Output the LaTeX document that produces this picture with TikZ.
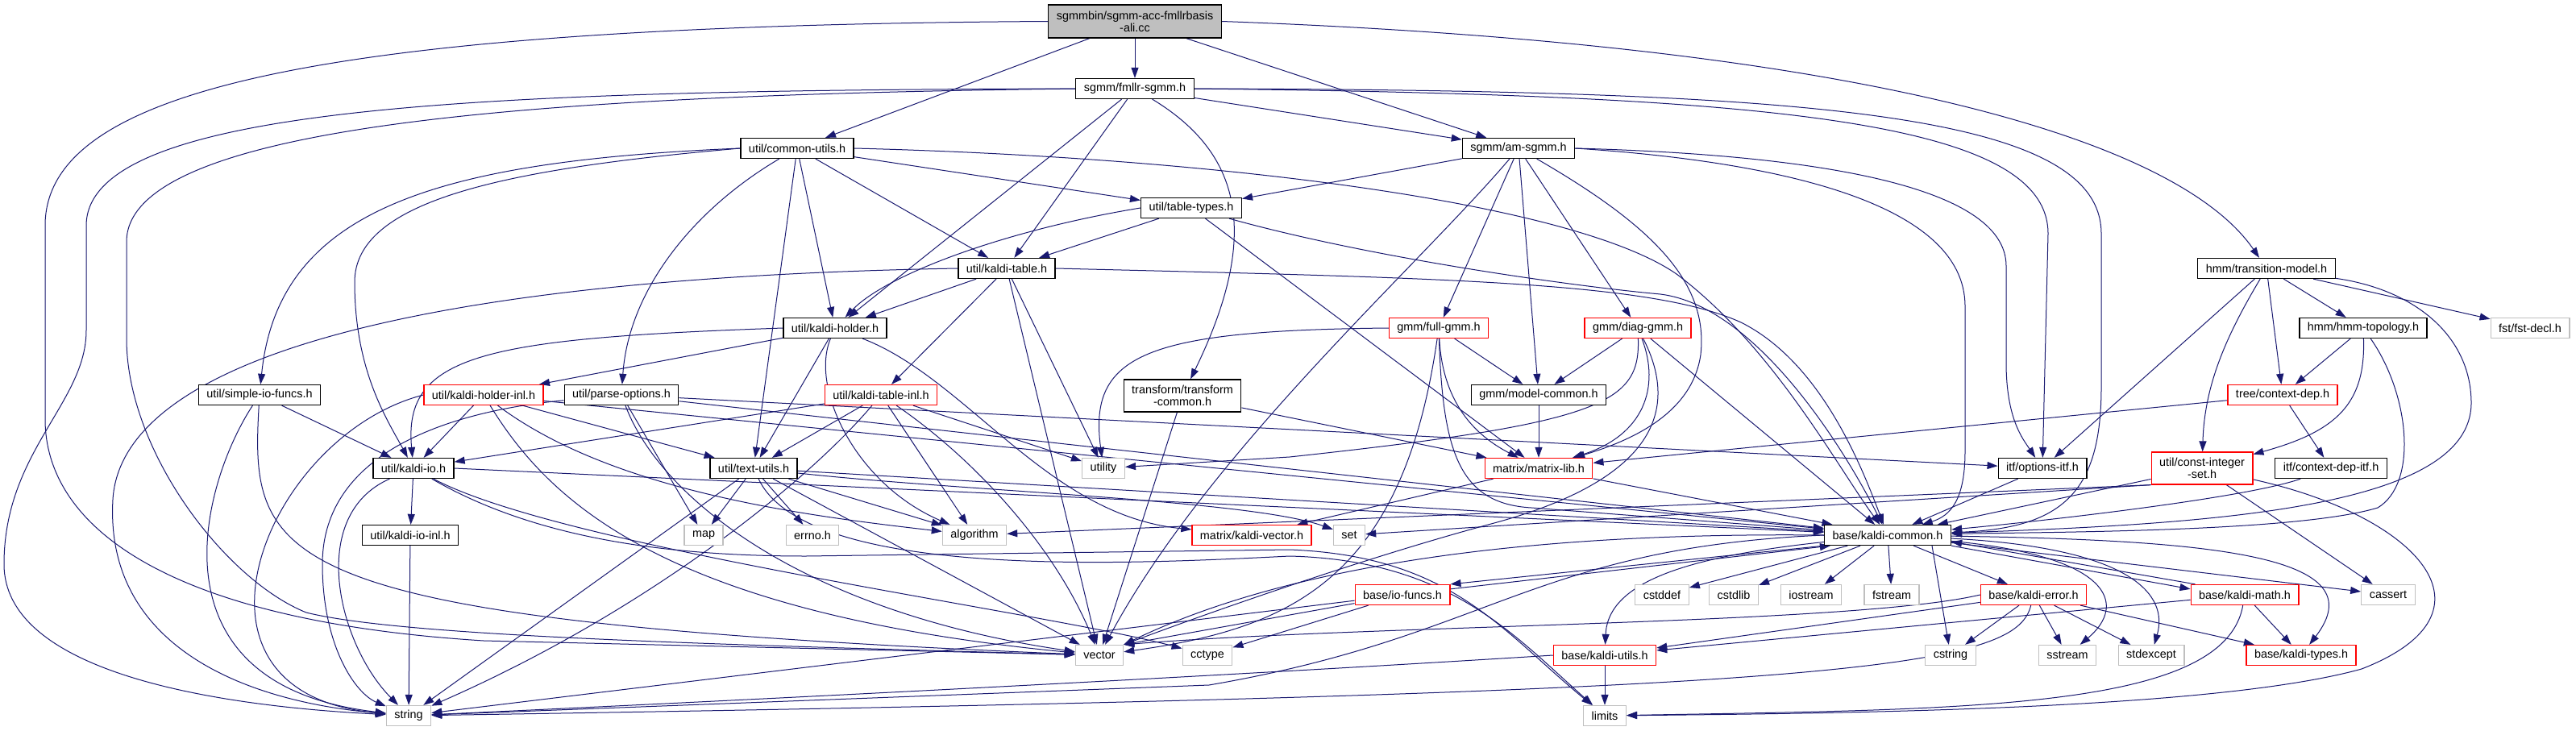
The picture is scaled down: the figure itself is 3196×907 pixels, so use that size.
\documentclass[tikz,border=0pt]{standalone}
\usepackage{fontspec}
\setmainfont{Liberation Sans}
\usetikzlibrary{arrows.meta,backgrounds}
\definecolor{depblue}{HTML}{191970}
\definecolor{sysgrey}{HTML}{BFBFBF}
\tikzset{
  file/.style={draw=black,fill=white,line width=1.3pt,inner xsep=10pt,inner ysep=0pt,
    minimum height=25pt,font=\fontsize{14.4}{15}\selectfont},
  trunc/.style={file,draw=red},
  sys/.style={file,draw=sysgrey},
  twoline/.style={align=center,minimum height=40pt},
  dep/.style={draw=depblue,line width=1pt,-{Triangle[length=13pt,width=9pt]}},
}
\begin{document}
\begin{tikzpicture}[x=1pt,y=-1pt]
\useasboundingbox (0,0) rectangle (3196,907);
% files
\node[file,twoline,fill=sysgrey,minimum height=41pt] (main) at (1408,26.5) {sgmmbin/sgmm-acc-fmllrbasis\\-ali.cc};
\node[file] (fmllr) at (1408,110) {sgmm/fmllr-sgmm.h};
\node[file] (commonutils) at (989,184) {util/common-utils.h};
\node[file] (amsgmm) at (1884,184) {sgmm/am-sgmm.h};
\node[file] (tabletypes) at (1478,258) {util/table-types.h};
\node[file] (kalditable) at (1249,333) {util/kaldi-table.h};
\node[file] (transition) at (2812,333) {hmm/transition-model.h};
\node[file] (kaldiholder) at (1036,407) {util/kaldi-holder.h};
\node[trunc] (fullgmm) at (1785,407) {gmm/full-gmm.h};
\node[trunc] (diaggmm) at (2032,407) {gmm/diag-gmm.h};
\node[file] (hmmtopo) at (2932,407) {hmm/hmm-topology.h};
\node[sys] (fstdecl) at (3139,407) {fst/fst-decl.h};
\node[file] (simpleio) at (322,490) {util/simple-io-funcs.h};
\node[trunc] (holderinl) at (600,490) {util/kaldi-holder-inl.h};
\node[file] (parseoptions) at (771,490) {util/parse-options.h};
\node[trunc] (tableinl) at (1093,490) {util/kaldi-table-inl.h};
\node[file,twoline] (transformcommon) at (1467,491) {transform/transform\\-common.h};
\node[file] (modelcommon) at (1909,490) {gmm/model-common.h};
\node[trunc] (contextdep) at (2832,490) {tree/context-dep.h};
\node[file] (kaldiio) at (513,581) {util/kaldi-io.h};
\node[file] (textutils) at (935,581) {util/text-utils.h};
\node[sys] (utility) at (1369,581) {utility};
\node[trunc] (matrixlib) at (1909,581) {matrix/matrix-lib.h};
\node[file] (optionsitf) at (2534,581) {itf/options-itf.h};
\node[trunc,twoline] (constintset) at (2732,581) {util/const-integer\\-set.h};
\node[file] (contextdepitf) at (2892,581) {itf/context-dep-itf.h};
\node[file] (kaldiioinl) at (509,664) {util/kaldi-io-inl.h};
\node[sys] (map) at (873,664) {map};
\node[sys] (errno) at (1008,664) {errno.h};
\node[sys] (algorithm) at (1209,664) {algorithm};
\node[trunc] (kaldivector) at (1553,664) {matrix/kaldi-vector.h};
\node[sys] (set) at (1674,664) {set};
\node[file] (kaldicommon) at (2342,664) {base/kaldi-common.h};
\node[trunc] (iofuncs) at (1740,738) {base/io-funcs.h};
\node[sys] (cstddef) at (2062,738) {cstddef};
\node[sys] (cstdlib) at (2151,738) {cstdlib};
\node[sys] (iostream) at (2247,738) {iostream};
\node[sys] (fstream) at (2347,738) {fstream};
\node[trunc] (kaldierror) at (2523,738) {base/kaldi-error.h};
\node[trunc] (kaldimath) at (2785,738) {base/kaldi-math.h};
\node[sys] (cassert) at (2963,738) {cassert};
\node[sys] (vector) at (1364,813) {vector};
\node[sys] (cctype) at (1498,813) {cctype};
\node[trunc] (kaldiutils) at (1991,813) {base/kaldi-utils.h};
\node[sys] (cstring) at (2420,813) {cstring};
\node[sys] (sstream) at (2565,813) {sstream};
\node[sys] (stdexcept) at (2669,813) {stdexcept};
\node[trunc] (kalditypes) at (2855,813) {base/kaldi-types.h};
\node[sys] (string) at (507,888) {string};
\node[sys] (limits) at (1991,888) {limits};
% includes
\begin{scope}[on background layer]
\fill[white] (0,0) rectangle (3196,907);
\foreach \dst in {fmllr,commonutils,amsgmm} \draw[dep] (main) -- (\dst);
\draw[dep] (main.east) .. controls (2300,55) and (2700,170) .. (transition);
\draw[dep] (main.west) .. controls (400,32) and (56,110) .. (56,280) -- (56,520)
  .. controls (56,650) and (200,770) .. (600,795) -- (vector);

\foreach \dst in {amsgmm,kaldiholder,kalditable} \draw[dep] (fmllr) -- (\dst);
\draw[dep] (fmllr) .. controls (1540,190) and (1565,290) .. (transformcommon);
\draw[dep] (fmllr.west) .. controls (600,112) and (107,130) .. (107,280) -- (107,410)
  .. controls (107,500) and (5,560) .. (5,700) .. controls (5,830) and (250,875) .. (string);
\draw[dep] (fmllr.west) .. controls (700,118) and (157,150) .. (157,300) -- (157,420)
  .. controls (157,560) and (280,720) .. (380,760) .. controls (500,790) and (900,800) .. (vector);
\draw[dep] (fmllr.east) .. controls (2200,118) and (2541,150) .. (2541,290) -- (optionsitf);
\draw[dep] (fmllr.east) .. controls (2250,112) and (2607,140) .. (2607,290) -- (2607,480)
  .. controls (2607,610) and (2560,655) .. (kaldicommon);

\foreach \dst in {textutils,kaldiholder,kalditable,tabletypes} \draw[dep] (commonutils) -- (\dst);
\draw[dep] (commonutils) .. controls (860,260) and (780,360) .. (parseoptions);
\draw[dep] (commonutils.west) .. controls (540,200) and (345,260) .. (simpleio);
\draw[dep] (commonutils.west) .. controls (620,210) and (440,250) .. (440,350)
  .. controls (440,460) and (480,520) .. (kaldiio);
\draw[dep] (commonutils.east) .. controls (1500,195) and (1950,250) .. (2080,340)
  .. controls (2200,430) and (2280,580) .. (kaldicommon);

\foreach \dst in {tabletypes,fullgmm,modelcommon,diaggmm} \draw[dep] (amsgmm) -- (\dst);
\draw[dep] (amsgmm) .. controls (1760,330) and (1500,560) .. (vector);
\draw[dep] (amsgmm) .. controls (2050,280) and (2120,350) .. (2110,440)
  .. controls (2100,510) and (2030,545) .. (matrixlib);
\draw[dep] (amsgmm.east) .. controls (2250,192) and (2489,230) .. (2489,330) -- (2489,450)
  .. controls (2489,520) and (2510,545) .. (optionsitf);
\draw[dep] (amsgmm.east) .. controls (2200,200) and (2438,250) .. (2438,380) -- (2438,560)
  .. controls (2438,620) and (2420,640) .. (kaldicommon);

\foreach \dst in {kalditable,matrixlib} \draw[dep] (tabletypes) -- (\dst);
\draw[dep] (tabletypes.west) .. controls (1250,285) and (1100,340) .. (kaldiholder);
\draw[dep] (tabletypes) .. controls (1700,320) and (1950,355) .. (2060,365)
  .. controls (2180,380) and (2290,560) .. (kaldicommon);

\foreach \dst in {optionsitf,contextdep,hmmtopo,fstdecl} \draw[dep] (transition) -- (\dst);
\draw[dep] (transition) .. controls (2760,420) and (2735,480) .. (constintset);
\draw[dep] (transition) .. controls (3000,360) and (3066,420) .. (3066,500)
  .. controls (3066,630) and (2750,650) .. (kaldicommon);

\draw[dep] (hmmtopo) -- (contextdep);
\draw[dep] (hmmtopo) .. controls (2935,500) and (2900,535) .. (constintset);
\draw[dep] (hmmtopo) .. controls (2990,490) and (3000,600) .. (2950,630)
  .. controls (2850,660) and (2550,660) .. (kaldicommon);
\draw[dep] (contextdep) -- (contextdepitf);
\draw[dep] (contextdep) -- (matrixlib);

\foreach \dst in {kaldiholder,tableinl,vector,utility} \draw[dep] (kalditable) -- (\dst);
\draw[dep] (kalditable.west) .. controls (500,345) and (150,450) .. (140,620)
  .. controls (130,800) and (300,870) .. (string);
\draw[dep] (kalditable.east) .. controls (1800,345) and (2050,350) .. (2160,400)
  .. controls (2260,450) and (2310,580) .. (kaldicommon);

\foreach \dst in {holderinl,textutils} \draw[dep] (kaldiholder) -- (\dst);
\draw[dep] (kaldiholder.west) .. controls (600,420) and (500,440) .. (kaldiio);
\draw[dep] (kaldiholder) .. controls (1005,480) and (1060,600) .. (algorithm);
\draw[dep] (kaldiholder) .. controls (1200,470) and (1300,640) .. (kaldivector);

\draw[dep] (fullgmm) -- (modelcommon);
\draw[dep] (fullgmm) .. controls (1790,500) and (1830,540) .. (matrixlib);
\draw[dep] (fullgmm) .. controls (1740,720) and (1600,780) .. (vector);
\draw[dep] (fullgmm) .. controls (1790,560) and (1810,625) .. (1900,630) -- (kaldicommon);
\draw[dep] (fullgmm.west) .. controls (1420,410) and (1350,440) .. (utility);

\draw[dep] (diaggmm) -- (modelcommon);
\draw[dep] (diaggmm) -- (kaldicommon);
\draw[dep] (diaggmm) .. controls (2060,480) and (2040,540) .. (matrixlib);
\draw[dep] (diaggmm) .. controls (2035,500) and (1990,525) .. (1600,567) -- (utility);
\draw[dep] (diaggmm) .. controls (2100,540) and (2000,610) .. (1850,650)
  .. controls (1700,690) and (1500,760) .. (vector.north east);

\draw[dep] (modelcommon) -- (matrixlib);
\draw[dep] (transformcommon) -- (matrixlib);
\draw[dep] (transformcommon) -- (vector);

\draw[dep] (simpleio) -- (kaldiio);
\draw[dep] (simpleio) .. controls (250,600) and (180,850) .. (string);
\draw[dep] (simpleio) .. controls (310,700) and (330,770) .. (vector);

\foreach \dst in {kaldiio,textutils,kaldicommon} \draw[dep] (holderinl) -- (\dst);
\draw[dep] (holderinl.west) .. controls (330,540) and (200,860) .. (string);
\draw[dep] (holderinl) .. controls (680,620) and (820,760) .. (vector);
\draw[dep] (holderinl) .. controls (760,610) and (1000,640) .. (algorithm);

\foreach \dst in {map,optionsitf,kaldicommon} \draw[dep] (parseoptions) -- (\dst);
\draw[dep] (parseoptions) .. controls (560,510) and (400,560) .. (400,700)
  .. controls (400,800) and (440,860) .. (string);
\draw[dep] (parseoptions) .. controls (820,620) and (1000,760) .. (vector);

\foreach \dst in {kaldiio,textutils,utility,algorithm} \draw[dep] (tableinl) -- (\dst);
\draw[dep] (tableinl) .. controls (1210,570) and (1310,680) .. (vector);
\draw[dep] (tableinl) .. controls (1000,600) and (800,760) .. (string);

\draw[dep] (kaldiio) -- (kaldiioinl);
\draw[dep] (kaldiio.east) -- (kaldicommon);
\draw[dep] (kaldiio) .. controls (380,640) and (420,800) .. (string);
\draw[dep] (kaldiio) .. controls (700,680) and (1300,760) .. (cctype);
\draw[dep] (kaldiio) .. controls (650,660) and (800,690) .. (1000,690) -- (1600,682)
  .. controls (1800,690) and (1860,780) .. (limits);
\draw[dep] (kaldiioinl) -- (string);

\foreach \dst in {map,errno,algorithm,vector,string,kaldicommon} \draw[dep] (textutils) -- (\dst);
\draw[dep] (textutils) .. controls (1200,610) and (1550,620) .. (set);
\draw[dep] (textutils) .. controls (1000,720) and (1400,700) .. (1600,690)
  .. controls (1800,695) and (1880,790) .. (limits);

\draw[dep] (matrixlib) -- (kaldivector);
\draw[dep] (matrixlib) -- (kaldicommon);
\draw[dep] (optionsitf) -- (kaldicommon);
\draw[dep] (contextdepitf) .. controls (2780,620) and (2500,650) .. (kaldicommon);

\foreach \dst in {kaldicommon,cassert} \draw[dep] (constintset) -- (\dst);
\draw[dep] (constintset.south west) -- (set);
\draw[dep] (constintset.south west) -- (algorithm);
\draw[dep] (constintset) .. controls (3000,640) and (3110,760) .. (2930,830)
  .. controls (2750,880) and (2300,885) .. (limits);

\foreach \dst in {cstddef,cstdlib,iostream,fstream,cassert,kaldierror} \draw[dep] (kaldicommon) -- (\dst);
\draw[dep] ([xshift=55pt]kaldicommon.south) -- (cstring);
\draw[dep] (kaldicommon) .. controls (2100,690) and (1995,720) .. (kaldiutils);
\draw[dep] (kaldicommon) .. controls (2620,690) and (2640,750) .. (sstream);
\draw[dep] (kaldicommon) .. controls (2650,680) and (2690,740) .. (stdexcept);
\draw[dep] (kaldicommon) .. controls (2750,670) and (2950,690) .. (kalditypes);
\draw[dep] (kaldicommon.west) .. controls (1900,680) and (1850,790) .. (1500,850) -- (string);
\draw[dep] (kaldicommon.west) .. controls (1900,660) and (1600,700) .. (vector.north east);
\draw[dep] (kaldicommon.south west) -- (iofuncs.north east);
\draw[dep] ([yshift=-6pt]iofuncs.north east) -- ([xshift=8pt]kaldicommon.south west);
\draw[dep] (kaldicommon.south east) -- ([yshift=-6pt]kaldimath.north west);
\draw[dep] ([xshift=6pt]kaldimath.north west) -- ([yshift=5pt]kaldicommon.south east);

\draw[dep] (iofuncs) -- (vector.north east);
\draw[dep] (iofuncs) -- (cctype);
\draw[dep] (iofuncs) -- (string);

\foreach \dst in {cstring,sstream,stdexcept,kalditypes,kaldiutils} \draw[dep] (kaldierror) -- (\dst);
\draw[dep] (kaldierror) .. controls (2500,830) and (2300,860) .. (string);
\draw[dep] (kaldierror.west) .. controls (2300,775) and (1700,775) .. (vector.north east);

\draw[dep] (kaldimath) -- (kalditypes);
\draw[dep] (kaldimath) -- (kaldiutils);
\draw[dep] (kaldimath) .. controls (2760,880) and (2450,880) .. (limits);

\draw[dep] (kaldiutils) -- (limits);
\draw[dep] (kaldiutils.west) .. controls (1500,840) and (900,870) .. (string);
\end{scope}
\end{tikzpicture}
\end{document}
